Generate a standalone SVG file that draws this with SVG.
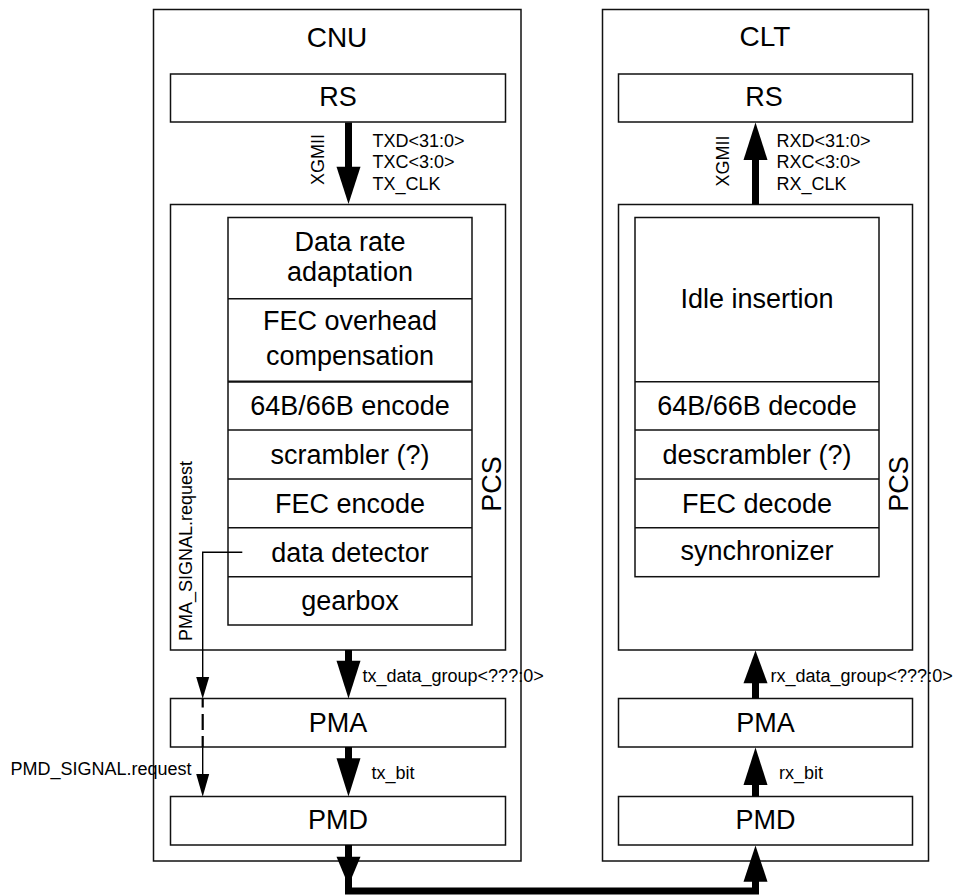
<svg xmlns="http://www.w3.org/2000/svg" width="958" height="896" viewBox="0 0 958 896">
<defs>
<style>
.box{fill:#fff;stroke:#111;stroke-width:1.5}
.ln{fill:none;stroke:#111;stroke-width:1.5}
.big{font-family:"Liberation Sans",Arial,sans-serif;font-size:27px;fill:#000;text-anchor:middle}
.title{font-family:"Liberation Sans",Arial,sans-serif;font-size:28px;fill:#000;text-anchor:middle}
.sm{font-family:"Liberation Sans",Arial,sans-serif;font-size:18px;fill:#000}
.smc{font-family:"Liberation Sans",Arial,sans-serif;font-size:18px;fill:#000;text-anchor:middle}
.shaft{fill:none;stroke:#000;stroke-width:7}
.head{fill:#000}
.thin{fill:none;stroke:#000;stroke-width:1.4}
</style>
</defs>
<rect width="958" height="896" fill="#fff"/>

<g id="cnu">
<rect class="box" x="153.5" y="9.5" width="367.5" height="851.5"/>
<text class="title" x="337" y="46.5">CNU</text>
</g>
<g id="cnu-rs">
<rect class="box" x="170.5" y="74" width="335" height="48"/>
<text class="big" x="338" y="106">RS</text>
</g>
<g id="cnu-pcs">
<rect class="box" x="170.5" y="204.5" width="335" height="445.5"/>
<text class="big" transform="translate(500.5,484) rotate(-90)">PCS</text>
</g>
<g id="cnu-stack">
<rect class="box" x="228" y="217.5" width="244" height="407.5"/>
<line class="ln" x1="228" y1="298.7" x2="472" y2="298.7"/>
<line class="ln" x1="228" y1="381.7" x2="472" y2="381.7" style="stroke-width:2.2"/>
<line class="ln" x1="228" y1="430" x2="472" y2="430"/>
<line class="ln" x1="228" y1="479" x2="472" y2="479"/>
<line class="ln" x1="228" y1="527.7" x2="472" y2="527.7"/>
<line class="ln" x1="228" y1="576.7" x2="472" y2="576.7"/>
<text class="big" x="350" y="251">Data rate</text>
<text class="big" x="350" y="281">adaptation</text>
<text class="big" x="350" y="330">FEC overhead</text>
<text class="big" x="350" y="365">compensation</text>
<text class="big" x="350" y="415">64B/66B encode</text>
<text class="big" x="350" y="464">scrambler (?)</text>
<text class="big" x="350" y="512.5">FEC encode</text>
<text class="big" x="350" y="561.5">data detector</text>
<text class="big" x="350" y="610">gearbox</text>
</g>
<g id="cnu-pma">
<rect class="box" x="170.5" y="698.5" width="335" height="48.5"/>
<text class="big" x="338" y="731.5">PMA</text>
</g>
<g id="cnu-pmd">
<rect class="box" x="170.5" y="796.5" width="335" height="48.5"/>
<text class="big" x="338" y="829">PMD</text>
</g>

<g id="clt">
<rect class="box" x="602.5" y="9.5" width="326" height="851.5"/>
<text class="title" x="765" y="46">CLT</text>
</g>
<g id="clt-rs">
<rect class="box" x="618.5" y="74" width="294" height="48"/>
<text class="big" x="764" y="106">RS</text>
</g>
<g id="clt-pcs">
<rect class="box" x="618.5" y="204.5" width="294" height="445.5"/>
<text class="big" transform="translate(908,484) rotate(-90)">PCS</text>
</g>
<g id="clt-stack">
<rect class="box" x="635" y="217.5" width="244" height="359.2"/>
<line class="ln" x1="635" y1="381.7" x2="879" y2="381.7"/>
<line class="ln" x1="635" y1="430" x2="879" y2="430"/>
<line class="ln" x1="635" y1="479" x2="879" y2="479"/>
<line class="ln" x1="635" y1="527.7" x2="879" y2="527.7"/>
<text class="big" x="757" y="307.5">Idle insertion</text>
<text class="big" x="757" y="415">64B/66B decode</text>
<text class="big" x="757" y="464">descrambler (?)</text>
<text class="big" x="757" y="512.5">FEC decode</text>
<text class="big" x="757" y="560">synchronizer</text>
</g>
<g id="clt-pma">
<rect class="box" x="618.5" y="698.5" width="294" height="48.5"/>
<text class="big" x="765.5" y="731.5">PMA</text>
</g>
<g id="clt-pmd">
<rect class="box" x="618.5" y="796.5" width="294" height="48.5"/>
<text class="big" x="765.5" y="829">PMD</text>
</g>

<g id="connectors">
<!-- CNU thick arrows -->
<path class="shaft" d="M348.5 122.5 V168"/>
<polygon class="head" points="336.5,166.7 360.5,166.7 348.5,204"/>
<path class="shaft" d="M348.5 650 V662"/>
<polygon class="head" points="336.5,660.7 360.5,660.7 348.5,698.5"/>
<path class="shaft" d="M348.5 747 V759"/>
<polygon class="head" points="336.5,758.3 360.5,758.3 348.5,796.5"/>
<!-- link -->
<path class="shaft" d="M348.5 845 V891 H755.5 V880" style="stroke-linejoin:miter"/>
<polygon class="head" points="336.5,856.7 360.5,856.7 348.5,885.5"/>
<polygon class="head" points="743.5,881.7 767.5,881.7 755.5,845.5"/>
<!-- CLT thick arrows -->
<path class="shaft" d="M755.5 204.5 V159"/>
<polygon class="head" points="743.5,160 767.5,160 755.5,122.5"/>
<path class="shaft" d="M755.5 698.5 V682"/>
<polygon class="head" points="743.5,683.3 767.5,683.3 755.5,650.5"/>
<path class="shaft" d="M755.5 796.5 V784"/>
<polygon class="head" points="743.5,785 767.5,785 755.5,747.5"/>
<!-- PMA_SIGNAL / PMD_SIGNAL -->
<path class="thin" d="M242.3 552.3 H202.7 V678"/>
<polygon class="head" points="196.2,677 209.2,677 202.7,698.7"/>
<path class="thin" d="M202.7 698.7 V707.5 M202.7 714 V730 M202.7 736 V747.3" style="stroke-width:2.2"/>
<path class="thin" d="M202.7 747.3 V775"/>
<polygon class="head" points="196.2,774 209.2,774 202.7,796.7"/>
<!-- labels -->
<text class="smc" transform="translate(323.5,159.5) rotate(-90)">XGMII</text>
<text class="sm" x="372.5" y="146.5">TXD&lt;31:0&gt;</text>
<text class="sm" x="372.5" y="168">TXC&lt;3:0&gt;</text>
<text class="sm" x="372.5" y="189.5">TX_CLK</text>
<text class="smc" transform="translate(728.5,161) rotate(-90)">XGMII</text>
<text class="sm" x="776.5" y="146.5">RXD&lt;31:0&gt;</text>
<text class="sm" x="776.5" y="168">RXC&lt;3:0&gt;</text>
<text class="sm" x="776.5" y="189.5">RX_CLK</text>
<text class="smc" transform="translate(192.2,551) rotate(-90)">PMA_SIGNAL.request</text>
<text class="sm" x="10.5" y="775">PMD_SIGNAL.request</text>
<text class="sm" x="362.5" y="681.5">tx_data_group&lt;???:0&gt;</text>
<text class="sm" x="371.5" y="779">tx_bit</text>
<text class="sm" x="770.5" y="681.5">rx_data_group&lt;???:0&gt;</text>
<text class="sm" x="779" y="779">rx_bit</text>
</g>
</svg>
